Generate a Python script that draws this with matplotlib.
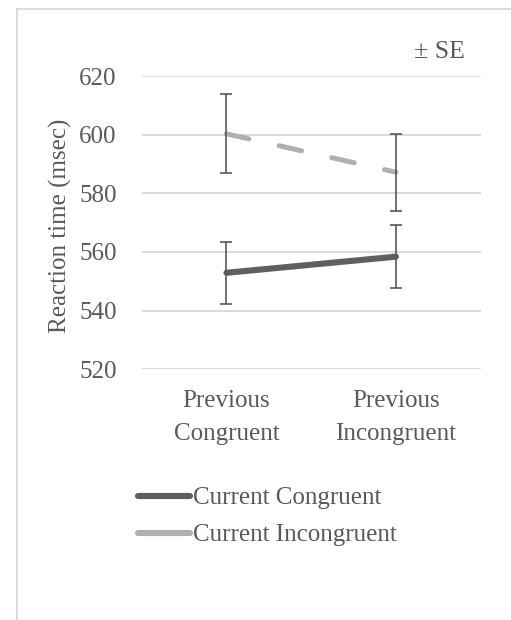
import numpy as np
import matplotlib
matplotlib.use('Agg')
import matplotlib.pyplot as plt
from matplotlib.lines import Line2D

plt.rcParams['font.family'] = ['Liberation Serif', 'DejaVu Serif']

# condition means and standard errors
conditions = ['Previous\nCongruent', 'Previous\nIncongruent']
series = ['Current Congruent', 'Current Incongruent']
cc_mean = [552.9, 558.4]
cc_se = [10.5, 10.8]
ci_mean = [600.3, 587.2]
ci_se = [13.5, 13.1]
yticks = [520, 540, 560, 580, 600, 620]

txt = '#595959'
dark = '#5f5f5f'
light = '#b0b0b0'

fig = plt.figure(figsize=(5.11, 6.2), dpi=100)
ax = fig.add_axes([0.2773, 0.4044, 0.6634, 0.473])

x = np.arange(len(conditions))
ax.plot(x, ci_mean, color=light, lw=3.6, linestyle=(0, (4.6, 6.2)),
        dash_capstyle='round', solid_capstyle='round', zorder=3)
ax.plot(x, cc_mean, color=dark, lw=4.4, solid_capstyle='round', zorder=3)
ax.errorbar(x, ci_mean, yerr=ci_se, fmt='none', ecolor=txt, elinewidth=1.2,
            capsize=4.3, capthick=1.2, zorder=4)
ax.errorbar(x, cc_mean, yerr=cc_se, fmt='none', ecolor=txt, elinewidth=1.2,
            capsize=4.3, capthick=1.2, zorder=4)

ax.set_xlim(-0.5, 1.5)
ax.set_ylim(520, 620)
ax.set_yticks(yticks)
ax.set_xticks(x)
ax.set_xticklabels(conditions, fontsize=18, color=txt, linespacing=1.65)
ax.tick_params(axis='y', labelsize=18, labelcolor=txt, length=0, pad=18)
ax.tick_params(axis='x', length=0, pad=15)
ax.grid(axis='y', color='#cfcfcf', lw=1.1)
ax.set_axisbelow(True)
for s in ax.spines.values():
    s.set_visible(False)
ax.set_ylabel('Reaction time (msec)', fontsize=18, color=txt, va='center')
ax.yaxis.set_label_coords(-0.24, 0.49)

fig.text(0.91, 0.916, '\u00b1 SE', fontsize=18.5, color=txt, ha='right', va='center')

handles = [Line2D([], [], color=dark, lw=4.4, solid_capstyle='round'),
           Line2D([], [], color=light, lw=4.4, solid_capstyle='round')]
fig.legend(handles, series, loc='upper left', bbox_to_anchor=(0.245, 0.235),
           frameon=False, fontsize=18, labelcolor=txt, handlelength=2.1,
           handletextpad=0.1, labelspacing=0.58, borderpad=0)

# chart area outline (top and left edges)
fig.add_artist(Line2D([0.033, 0.033], [0, 0.985], color='#d9d9d9', lw=1.3))
fig.add_artist(Line2D([0.033, 1.0], [0.985, 0.985], color='#d9d9d9', lw=1.3))

fig.savefig('out.png', dpi=100)
